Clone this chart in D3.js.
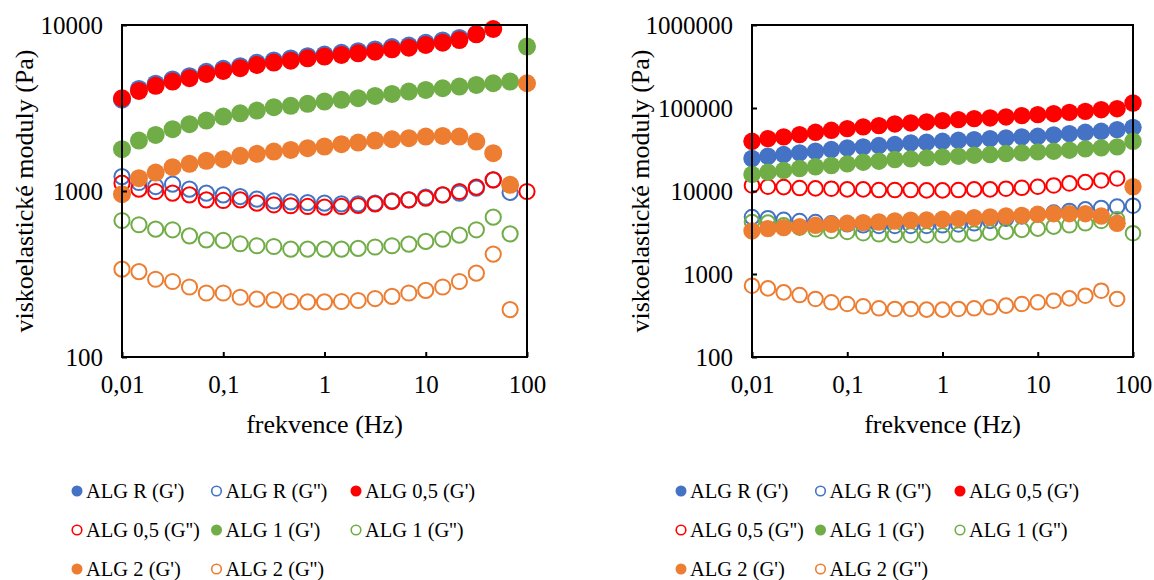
<!DOCTYPE html>
<html>
<head>
<meta charset="utf-8">
<script src="https://cdn.jsdelivr.net/npm/d3@7"></script>
<style>
  body { margin: 0; background: #fff; }
  svg { display: block; font-family: "Liberation Serif", "Times New Roman", serif; }
</style>
</head>
<body>
<svg id="viz" width="1154" height="580"></svg>
<script>
// frekvence (Hz)
const freq = [0.01, 0.0147, 0.0215, 0.0316, 0.0464, 0.0681, 0.1, 0.147, 0.215, 0.316, 0.464, 0.681,
  1, 1.47, 2.15, 3.16, 4.64, 6.81, 10, 14.7, 21.5, 31.6, 46.4, 68.1, 100];

const seriesNames = ["ALG R (G')", "ALG R (G'')", "ALG 0,5 (G')", "ALG 0,5 (G'')",
  "ALG 1 (G')", "ALG 1 (G'')", "ALG 2 (G')", "ALG 2 (G'')"];
const seriesColors = ["#4472C4", "#4472C4", "#FF0000", "#FF0000", "#70AD47", "#70AD47", "#ED7D31", "#ED7D31"];
const seriesFilled = [true, false, true, false, true, false, true, false];

const xTicks = [0.01, 0.1, 1, 10, 100];
const xTickLabels = ["0,01", "0,1", "1", "10", "100"];
const yTicksLeft = [100, 1000, 10000];
const yTicksRight = [100, 1000, 10000, 100000, 1000000];

// levý graf
const leftRG1 = [3550, 4120, 4430, 4700, 4920, 5220, 5450, 5650, 5920, 6120, 6290, 6490, 6640, 6800, 6960, 7120, 7360, 7520, 7810, 8070, 8360, 8850, null, null, null];
const leftRG2 = [1222, 1125, 1064, 1099, 1026, 971, 948, 926, 893, 872, 860, 852, 845, 837, 837, 845, 872, 885, 918, 948, 971, 1040, 1168, 980, null];
const left05G1 = [3620, 4010, 4300, 4560, 4780, 5070, 5290, 5490, 5750, 5940, 6100, 6300, 6450, 6600, 6750, 6910, 7140, 7300, 7580, 7830, 8120, 8790, 9460, null, null];
const left05G2 = [1114, 1026, 993, 971, 948, 885, 877, 885, 845, 826, 815, 807, 799, 807, 818, 837, 865, 885, 906, 948, 993, 1055, 1168, null, 993];
const left1G1 = [1786, 2014, 2178, 2357, 2525, 2655, 2807, 2939, 3050, 3198, 3258, 3350, 3459, 3540, 3622, 3741, 3846, 3972, 4064, 4159, 4256, 4355, 4457, 4560, 7412];
const left1G2 = [664, 626, 589, 584, 537, 508, 504, 481, 468, 463, 447, 447, 447, 447, 451, 460, 468, 479, 497, 513, 542, 584, 696, 552, null];
const left2G1 = [957, 1195, 1292, 1391, 1457, 1519, 1554, 1628, 1674, 1728, 1769, 1810, 1853, 1913, 1958, 2013, 2050, 2080, 2128, 2148, 2128, 1986, 1689, 1089, 4457];
const left2G2 = [338, 327, 294, 285, 264, 243, 243, 229, 223, 221, 216, 215, 215, 216, 219, 225, 232, 243, 252, 264, 285, 320, 417, 193, null];

// pravý graf
const rightRG1 = [24630, 26240, 27480, 28800, 30130, 31590, 33110, 34040, 35270, 36260, 38020, 38640, 39720, 40840, 41630, 42800, 43650, 44870, 45600, 47430, 49150, 50990, 52360, 54890, 58500];
const rightRG2 = [4860, 4700, 4500, 4350, 4230, 4080, 3970, 3860, 3790, 3790, 3790, 3790, 3860, 3950, 4080, 4350, 4650, 4950, 5250, 5500, 5750, 6000, 6250, 6500, 6650];
const right05G1 = [39720, 42800, 44870, 47790, 50990, 53890, 56430, 59160, 61310, 64270, 66070, 67920, 70390, 72370, 74400, 75860, 77980, 80850, 83100, 85430, 88620, 91110, 95390, 98060, 114800];
const right05G2 = [11670, 11250, 11150, 10850, 10750, 10650, 10450, 10450, 10260, 10260, 10260, 10170, 10170, 10260, 10450, 10450, 10650, 10940, 11250, 11670, 12340, 12800, 13400, 14160, null];
const right1G1 = [15830, 16870, 17680, 18680, 19590, 20290, 21250, 22230, 22860, 23960, 24400, 25080, 25780, 26260, 27000, 27500, 28270, 28800, 29610, 30160, 31000, 32160, 33060, 33990, 39760];
const right1G2 = [4230, 4160, 3860, 3620, 3460, 3300, 3210, 3100, 3010, 2960, 2930, 2930, 2930, 2990, 3070, 3150, 3240, 3400, 3520, 3720, 3860, 4080, 4350, 4560, 3100];
const right2G1 = [3300, 3520, 3620, 3720, 3860, 3970, 4080, 4160, 4230, 4350, 4440, 4480, 4560, 4650, 4770, 4860, 5000, 5090, 5240, 5330, 5330, 5330, 5000, 4080, 11250];
const right2G2 = [722, 671, 601, 558, 500, 456, 435, 408, 386, 379, 379, 372, 372, 379, 386, 397, 416, 435, 456, 477, 509, 548, 629, 500, null];

const svg = d3.select("#viz");
svg.append("rect").attr("width", 1154).attr("height", 580).attr("fill", "#fff");

// rozložení obou grafů
const panels = [
  {
    left: 122, right: 527, top: 25, bottom: 357,
    yDomain: [100, 10000], yTicks: yTicksLeft,
    data: [leftRG1, leftRG2, left05G1, left05G2, left1G1, left1G2, left2G1, left2G2],
    rFill: 9, rOpen: 7.6,
    yTitleX: 24, legendX: 77
  },
  {
    left: 752, right: 1133, top: 25, bottom: 357,
    yDomain: [100, 1000000], yTicks: yTicksRight,
    data: [rightRG1, rightRG2, right05G1, right05G2, right1G1, right1G2, right2G1, right2G2],
    rFill: 8.7, rOpen: 7.3,
    yTitleX: 640, legendX: 681
  }
];

panels.forEach(drawPanel);

function drawPanel(p) {
  const x = d3.scaleLog().domain([0.01, 100]).range([p.left, p.right]);
  const y = d3.scaleLog().domain(p.yDomain).range([p.bottom, p.top]);
  const g = svg.append("g");

  // body
  p.data.forEach((vals, si) => {
    const pts = vals.map((v, i) => ({ f: freq[i], v })).filter(d => d.v != null);
    g.append("g")
      .selectAll("circle")
      .data(pts)
      .enter().append("circle")
      .attr("cx", d => x(d.f))
      .attr("cy", d => y(d.v))
      .attr("r", seriesFilled[si] ? p.rFill : p.rOpen)
      .attr("fill", seriesFilled[si] ? seriesColors[si] : "none")
      .attr("stroke", seriesFilled[si] ? "none" : seriesColors[si])
      .attr("stroke-width", 2);
  });

  // rámeček
  g.append("rect")
    .attr("x", p.left).attr("y", p.top)
    .attr("width", p.right - p.left).attr("height", p.bottom - p.top)
    .attr("fill", "none").attr("stroke", "#000").attr("stroke-width", 2);

  // osy s dílky dovnitř
  const xAxis = d3.axisBottom(x).tickValues(xTicks).tickSize(-5)
    .tickFormat((d, i) => xTickLabels[i]);
  const gx = g.append("g").attr("transform", `translate(0,${p.bottom})`).call(xAxis);
  gx.select(".domain").remove();
  gx.selectAll("line").attr("stroke", "#000").attr("stroke-width", 2);
  gx.selectAll("text").attr("y", 36).attr("dy", "0").style("font-size", "25px")
    .style("font-family", "Liberation Serif").attr("fill", "#000");

  const yAxis = d3.axisLeft(y).tickValues(p.yTicks).tickSize(-5).tickFormat(d3.format("d"));
  const gy = g.append("g").attr("transform", `translate(${p.left},0)`).call(yAxis);
  gy.select(".domain").remove();
  gy.selectAll("line").attr("stroke", "#000").attr("stroke-width", 2);
  gy.selectAll("text").attr("x", -19).attr("dy", "0.35em").style("font-size", "25px")
    .style("font-family", "Liberation Serif").attr("fill", "#000");

  // popisky os
  g.append("text")
    .attr("x", (p.left + p.right) / 2).attr("y", 433)
    .attr("text-anchor", "middle")
    .style("font-size", "26px")
    .text("frekvence (Hz)");

  g.append("text")
    .attr("transform", `translate(${p.yTitleX},${(p.top + p.bottom) / 2}) rotate(-90)`)
    .attr("text-anchor", "middle")
    .attr("dy", "0.35em")
    .style("font-size", "26px")
    .text("viskoelastické moduly (Pa)");

  // legenda
  const legend = g.append("g").attr("transform", `translate(${p.legendX},491)`);
  seriesNames.forEach((name, i) => {
    const col = i % 3, row = Math.floor(i / 3);
    const item = legend.append("g").attr("transform", `translate(${col * 139.5},${row * 39})`);
    item.append("circle")
      .attr("r", seriesFilled[i] ? 5.5 : 4.8)
      .attr("fill", seriesFilled[i] ? seriesColors[i] : "none")
      .attr("stroke", seriesFilled[i] ? "none" : seriesColors[i])
      .attr("stroke-width", 1.6);
    item.append("text")
      .attr("x", 9).attr("dy", "0.35em")
      .style("font-size", "20.5px")
      .text(name);
  });
}
</script>
</body>
</html>
